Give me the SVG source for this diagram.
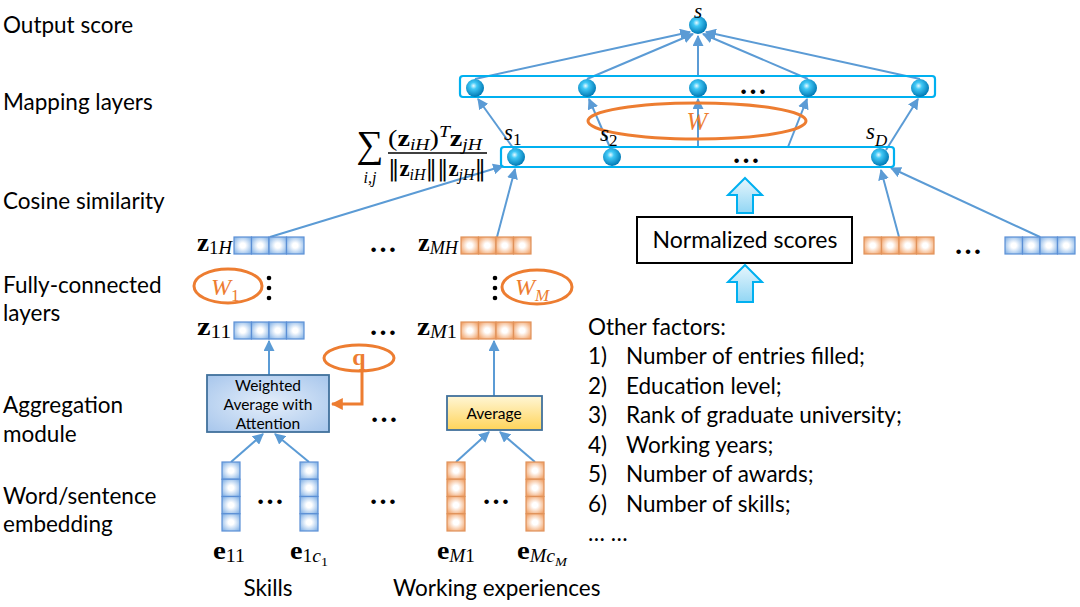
<svg xmlns="http://www.w3.org/2000/svg" width="1080" height="607" viewBox="0 0 1080 607">
<defs>
<style>
.lbl{font-family:Lato,"Liberation Sans",sans-serif;font-size:22.5px;fill:#000}
.m{font-family:"Liberation Serif","DejaVu Serif",serif;fill:#000}
.b{font-weight:bold}
.i{font-style:italic}
.conn{stroke:#5B9BD5;stroke-width:2;fill:none}
.ell{fill:none;stroke:#ED7D31;stroke-width:3}
.ow{fill:#ED7D31}
.layer{fill:none;stroke:#00B0F0;stroke-width:2.2}
.blk{fill:url(#barrow);stroke:#00B0F0;stroke-width:2}
.dots{font-family:"Liberation Serif",serif;font-weight:bold;font-size:28px;fill:#000}
</style>
<radialGradient id="ball" cx="0.42" cy="0.38" r="0.62">
<stop offset="0" stop-color="#E8FAFF"/>
<stop offset="0.3" stop-color="#40C8F6"/>
<stop offset="1" stop-color="#0078B4"/>
</radialGradient>
<radialGradient id="bcell" cx="0.5" cy="0.5" r="0.6">
<stop offset="0.25" stop-color="#FFFFFF"/>
<stop offset="1" stop-color="#8DB8E8"/>
</radialGradient>
<radialGradient id="ocell" cx="0.5" cy="0.5" r="0.6">
<stop offset="0.25" stop-color="#FFFFFF"/>
<stop offset="1" stop-color="#F2A66E"/>
</radialGradient>
<linearGradient id="avg" x1="0" y1="0" x2="0" y2="1">
<stop offset="0" stop-color="#FFF6D5"/>
<stop offset="1" stop-color="#FFD45A"/>
</linearGradient>
<radialGradient id="wbox" cx="0.5" cy="0.5" r="0.7">
<stop offset="0" stop-color="#E4EEFA"/>
<stop offset="1" stop-color="#A7C6EC"/>
</radialGradient>
<linearGradient id="barrow" x1="0" y1="0" x2="0" y2="1">
<stop offset="0" stop-color="#E6F6FD"/>
<stop offset="1" stop-color="#92D6F4"/>
</linearGradient>
<marker id="ah" viewBox="0 0 10 10" refX="9" refY="5" markerWidth="5.5" markerHeight="5.5" orient="auto">
<path d="M0,0 L10,5 L0,10 z" fill="#5B9BD5"/>
</marker>
<marker id="aho" viewBox="0 0 10 10" refX="9" refY="5" markerWidth="4" markerHeight="4" orient="auto">
<path d="M0,0 L10,5 L0,10 z" fill="#ED7D31"/>
</marker>
<g id="hb">
<rect x="0" y="0" width="17.5" height="17" fill="url(#bcell)" stroke="#5B8FD5" stroke-width="1.2"/>
<rect x="17.5" y="0" width="17.5" height="17" fill="url(#bcell)" stroke="#5B8FD5" stroke-width="1.2"/>
<rect x="35" y="0" width="17.5" height="17" fill="url(#bcell)" stroke="#5B8FD5" stroke-width="1.2"/>
<rect x="52.5" y="0" width="17.5" height="17" fill="url(#bcell)" stroke="#5B8FD5" stroke-width="1.2"/>
</g>
<g id="ho">
<rect x="0" y="0" width="17.5" height="17" fill="url(#ocell)" stroke="#E0925A" stroke-width="1.2"/>
<rect x="17.5" y="0" width="17.5" height="17" fill="url(#ocell)" stroke="#E0925A" stroke-width="1.2"/>
<rect x="35" y="0" width="17.5" height="17" fill="url(#ocell)" stroke="#E0925A" stroke-width="1.2"/>
<rect x="52.5" y="0" width="17.5" height="17" fill="url(#ocell)" stroke="#E0925A" stroke-width="1.2"/>
</g>
<g id="vb">
<rect x="0" y="0" width="18" height="17.25" fill="url(#bcell)" stroke="#5B8FD5" stroke-width="1.2"/>
<rect x="0" y="17.25" width="18" height="17.25" fill="url(#bcell)" stroke="#5B8FD5" stroke-width="1.2"/>
<rect x="0" y="34.5" width="18" height="17.25" fill="url(#bcell)" stroke="#5B8FD5" stroke-width="1.2"/>
<rect x="0" y="51.75" width="18" height="17.25" fill="url(#bcell)" stroke="#5B8FD5" stroke-width="1.2"/>
</g>
<g id="vo">
<rect x="0" y="0" width="18" height="17.25" fill="url(#ocell)" stroke="#E0925A" stroke-width="1.2"/>
<rect x="0" y="17.25" width="18" height="17.25" fill="url(#ocell)" stroke="#E0925A" stroke-width="1.2"/>
<rect x="0" y="34.5" width="18" height="17.25" fill="url(#ocell)" stroke="#E0925A" stroke-width="1.2"/>
<rect x="0" y="51.75" width="18" height="17.25" fill="url(#ocell)" stroke="#E0925A" stroke-width="1.2"/>
</g>
</defs>
<rect width="1080" height="607" fill="#FFFFFF"/>

<g id="row-labels">
<text class="lbl" x="3" y="33">Output score</text>
<text class="lbl" x="3" y="110">Mapping layers</text>
<text class="lbl" x="3" y="209">Cosine similarity</text>
<text class="lbl" x="3" y="293">Fully-connected</text>
<text class="lbl" x="3" y="321">layers</text>
<text class="lbl" x="3" y="413">Aggregation</text>
<text class="lbl" x="3" y="442">module</text>
<text class="lbl" x="3" y="504">Word/sentence</text>
<text class="lbl" x="3" y="532">embedding</text>
</g>

<g id="connectors">
<path class="conn" marker-end="url(#ah)" d="M475,79 L690,32"/>
<path class="conn" marker-end="url(#ah)" d="M587,79 L693,34"/>
<path class="conn" marker-end="url(#ah)" d="M698,77 L698,36"/>
<path class="conn" marker-end="url(#ah)" d="M808,79 L703,34"/>
<path class="conn" marker-end="url(#ah)" d="M920,79 L706,32"/>
<path class="conn" marker-end="url(#ah)" d="M516,152 L478,99"/>
<path class="conn" marker-end="url(#ah)" d="M612,152 L589,99"/>
<path class="conn" marker-end="url(#ah)" d="M698,147 L698,99"/>
<path class="conn" marker-end="url(#ah)" d="M788,147 L807,99"/>
<path class="conn" marker-end="url(#ah)" d="M886,150 L918,99"/>
<path class="conn" marker-end="url(#ah)" d="M270,237 L503,166"/>
<path class="conn" marker-end="url(#ah)" d="M497,237 L515,169"/>
<path class="conn" marker-end="url(#ah)" d="M899,237 L881,170"/>
<path class="conn" marker-end="url(#ah)" d="M1040,237 L891,168"/>
<path class="conn" marker-end="url(#ah)" d="M269,375 L269,341"/>
<path class="conn" marker-end="url(#ah)" d="M494,396 L494,341"/>
<path class="conn" marker-end="url(#ah)" d="M231,462 L263,434"/>
<path class="conn" marker-end="url(#ah)" d="M309,462 L275,434"/>
<path class="conn" marker-end="url(#ah)" d="M456,462 L489,432"/>
<path class="conn" marker-end="url(#ah)" d="M535,462 L500,432"/>
<path d="M362,372 L362,404 L332,404" fill="none" stroke="#ED7D31" stroke-width="3" marker-end="url(#aho)"/>
</g>

<g id="output-s">
<circle cx="698" cy="25" r="9" fill="url(#ball)"/>
<text class="m i" x="698" y="18" font-size="21" text-anchor="middle">s</text>
</g>

<g id="mapping-layer">
<rect class="layer" x="460" y="76" width="475" height="21" rx="3"/>
<circle cx="475" cy="88" r="9" fill="url(#ball)"/>
<circle cx="587" cy="88" r="9" fill="url(#ball)"/>
<circle cx="698" cy="88" r="9" fill="url(#ball)"/>
<circle cx="808" cy="88" r="9" fill="url(#ball)"/>
<circle cx="920" cy="88" r="9" fill="url(#ball)"/>
<text class="dots" x="739" y="94" textLength="27" lengthAdjust="spacing">…</text>
</g>

<g id="W-ellipse">
<ellipse class="ell" cx="697" cy="121" rx="109" ry="18"/>
<text class="m i ow" x="697" y="130" font-size="25" text-anchor="middle">W</text>
</g>

<g id="cosine-layer">
<rect class="layer" x="501" y="147" width="393" height="20" rx="3"/>
<circle cx="516" cy="157" r="9" fill="url(#ball)"/>
<circle cx="612" cy="157" r="9" fill="url(#ball)"/>
<circle cx="880" cy="157" r="9" fill="url(#ball)"/>
<text class="dots" x="732" y="163">…</text>
<text class="m i" x="504" y="140" font-size="23">s<tspan font-size="17" font-style="normal" dy="5">1</tspan></text>
<text class="m i" x="600" y="141" font-size="23">s<tspan font-size="17" font-style="normal" dy="5">2</tspan></text>
<text class="m i" x="866" y="139" font-size="23">s<tspan font-size="17" dy="7">D</tspan></text>
</g>

<g id="formula">
<text class="m" x="370" y="157" font-size="38" text-anchor="middle">∑</text>
<text class="m i" x="370" y="183" font-size="16" text-anchor="middle">i,j</text>
<text class="m" x="388" y="146" font-size="23" textLength="94" lengthAdjust="spacingAndGlyphs">(<tspan class="b">z</tspan><tspan class="i" font-size="16" dy="4">iH</tspan><tspan dy="-4">)</tspan><tspan class="i" font-size="16" dy="-9">T</tspan><tspan class="b" dy="9">z</tspan><tspan class="i" font-size="16" dy="4">jH</tspan></text>
<line x1="388" y1="153" x2="487" y2="153" stroke="#000" stroke-width="1.3"/>
<text class="m" x="388" y="176" font-size="23" textLength="98" lengthAdjust="spacingAndGlyphs"><tspan font-family="DejaVu Serif">‖</tspan><tspan class="b">z</tspan><tspan class="i" font-size="16" dy="4">iH</tspan><tspan dy="-4" font-family="DejaVu Serif">‖‖</tspan><tspan class="b">z</tspan><tspan class="i" font-size="16" dy="4">jH</tspan><tspan dy="-4" font-family="DejaVu Serif">‖</tspan></text>
</g>

<g id="z1H">
<text class="m b" x="197" y="251" font-size="26" textLength="35" lengthAdjust="spacingAndGlyphs">z<tspan font-size="18" font-weight="normal" dy="3">1</tspan><tspan class="i" font-size="18" font-weight="normal">H</tspan></text>
<use href="#hb" x="234" y="237"/>
</g>
<g id="zMH">
<text class="m b" x="418" y="251" font-size="26" textLength="40" lengthAdjust="spacingAndGlyphs">z<tspan class="i" font-size="18" font-weight="normal" dy="3">MH</tspan></text>
<use href="#ho" x="461" y="237"/>
</g>
<text class="dots" x="369" y="252">…</text>

<g id="z11">
<text class="m b" x="197" y="335" font-size="26" textLength="34" lengthAdjust="spacingAndGlyphs">z<tspan font-size="18" font-weight="normal" dy="3">11</tspan></text>
<use href="#hb" x="234" y="322"/>
</g>
<g id="zM1">
<text class="m b" x="417" y="335" font-size="26" textLength="40" lengthAdjust="spacingAndGlyphs">z<tspan class="i" font-size="18" font-weight="normal" dy="3">M</tspan><tspan font-size="18" font-weight="normal">1</tspan></text>
<use href="#ho" x="461" y="322"/>
</g>
<text class="dots" x="369" y="335">…</text>

<g id="W1">
<ellipse class="ell" cx="228" cy="286" rx="34" ry="17"/>
<text class="m i ow" x="211" y="295" font-size="24">W<tspan font-size="17" font-style="normal" dy="6">1</tspan></text>
<circle cx="269" cy="278" r="2.3"/><circle cx="269" cy="288" r="2.3"/><circle cx="269" cy="298" r="2.3"/>
</g>
<g id="WM">
<ellipse class="ell" cx="537" cy="287" rx="35" ry="17"/>
<text class="m i ow" x="515" y="295" font-size="24">W<tspan font-size="17" dy="6">M</tspan></text>
<circle cx="495" cy="278" r="2.3"/><circle cx="495" cy="288" r="2.3"/><circle cx="495" cy="298" r="2.3"/>
</g>

<g id="right-vectors">
<use href="#ho" x="864" y="237"/>
<text class="dots" x="954" y="254">…</text>
<use href="#hb" x="1005" y="237"/>
</g>

<g id="normalized-scores">
<path class="blk" d="M745,178 L762,195 L753,195 L753,213 L737,213 L737,195 L728,195 Z"/>
<rect x="637" y="217" width="215" height="46" fill="#FFFFFF" stroke="#000" stroke-width="2"/>
<text class="lbl" x="745" y="248" style="font-size:23px" text-anchor="middle">Normalized scores</text>
<path class="blk" d="M745,265 L762,282 L753,282 L753,302 L737,302 L737,282 L728,282 Z"/>
</g>

<g id="q">
<ellipse class="ell" cx="359" cy="358" rx="35" ry="13"/>
<text class="m b ow" x="359" y="365" font-size="24" text-anchor="middle">q</text>
</g>

<g id="weighted-average">
<rect x="207" y="375" width="122" height="57" fill="url(#wbox)" stroke="#41719C" stroke-width="1.8"/>
<text class="lbl" x="268" y="391" style="font-size:15.5px" text-anchor="middle">Weighted</text>
<text class="lbl" x="268" y="410" style="font-size:15.5px" text-anchor="middle">Average with</text>
<text class="lbl" x="268" y="429" style="font-size:15.5px" text-anchor="middle">Attention</text>
</g>
<text class="dots" x="370" y="422">…</text>
<g id="average">
<rect x="447" y="396" width="95" height="34" fill="url(#avg)" stroke="#41719C" stroke-width="1.8"/>
<text class="lbl" x="494" y="419" style="font-size:15.5px" text-anchor="middle">Average</text>
</g>

<g id="embeddings">
<use href="#vb" x="222" y="462"/>
<text class="dots" x="256" y="504">…</text>
<use href="#vb" x="300" y="462"/>
<text class="dots" x="369" y="504">…</text>
<use href="#vo" x="447" y="462"/>
<text class="dots" x="482" y="504">…</text>
<use href="#vo" x="526" y="462"/>
<text class="m b" x="213" y="559" font-size="26" textLength="32" lengthAdjust="spacingAndGlyphs">e<tspan font-size="18" font-weight="normal" dy="3">11</tspan></text>
<text class="m b" x="290" y="559" font-size="26" textLength="38" lengthAdjust="spacingAndGlyphs">e<tspan font-size="18" font-weight="normal" dy="3">1</tspan><tspan class="i" font-size="18" font-weight="normal">c</tspan><tspan font-size="13" font-weight="normal" dy="4">1</tspan></text>
<text class="m b" x="437" y="559" font-size="26" textLength="38" lengthAdjust="spacingAndGlyphs">e<tspan class="i" font-size="18" font-weight="normal" dy="3">M</tspan><tspan font-size="18" font-weight="normal">1</tspan></text>
<text class="m b" x="517" y="559" font-size="26" textLength="50" lengthAdjust="spacingAndGlyphs">e<tspan class="i" font-size="18" font-weight="normal" dy="3">Mc</tspan><tspan class="i" font-size="13" font-weight="normal" dy="4">M</tspan></text>
<text class="lbl" x="268" y="596" text-anchor="middle">Skills</text>
<text class="lbl" x="393" y="596">Working experiences</text>
</g>

<g id="other-factors">
<text class="lbl" x="588" y="335">Other factors:</text>
<text class="lbl" x="588" y="364">1)</text><text class="lbl" x="626" y="364">Number of entries filled;</text>
<text class="lbl" x="588" y="394">2)</text><text class="lbl" x="626" y="394">Education level;</text>
<text class="lbl" x="588" y="423">3)</text><text class="lbl" x="626" y="423">Rank of graduate university;</text>
<text class="lbl" x="588" y="453">4)</text><text class="lbl" x="626" y="453">Working years;</text>
<text class="lbl" x="588" y="482">5)</text><text class="lbl" x="626" y="482">Number of awards;</text>
<text class="lbl" x="588" y="512">6)</text><text class="lbl" x="626" y="512">Number of skills;</text>
<text class="lbl" x="588" y="541">… …</text>
</g>
</svg>
